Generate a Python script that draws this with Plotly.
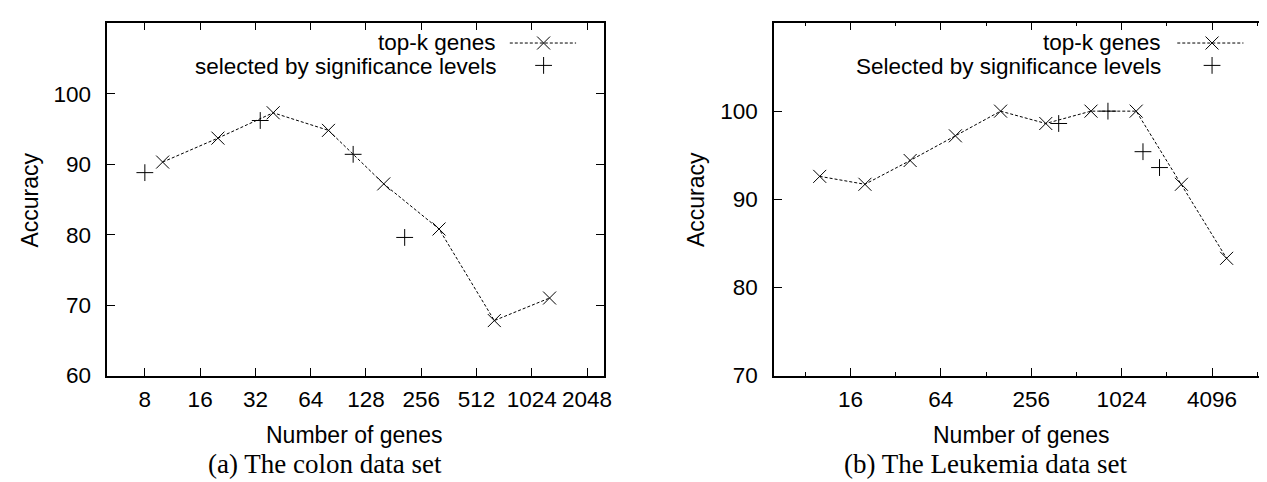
import plotly.graph_objects as go

W, H = 1267, 482

# ---------------- data ----------------
colon_topk_genes = [10, 20, 40, 80, 160, 320, 640, 1280]
colon_topk_acc = [90.3, 93.7, 97.3, 94.8, 87.2, 80.8, 67.8, 71.0]
colon_sig_genes = [8, 34, 109, 208]
colon_sig_acc = [88.8, 96.2, 91.4, 79.6]

leuk_topk_genes = [10, 20, 40, 80, 160, 320, 640, 1280, 2560, 5120]
leuk_topk_acc = [92.6, 91.7, 94.4, 97.2, 100.0, 98.6, 100.0, 100.0, 91.7, 83.3]
leuk_sig_genes = [390, 830, 1420, 1830]
leuk_sig_acc = [98.6, 100.0, 95.4, 93.6]

colon_xticks = [8, 16, 32, 64, 128, 256, 512, 1024, 2048]
leuk_xticks = [16, 64, 256, 1024, 4096]
leuk_xminor = [8, 32, 128, 512, 2048, 8192]
colon_yticks = [60, 70, 80, 90, 100]
leuk_yticks = [70, 80, 90, 100]

legend_labels_a = ["top-k genes", "selected by significance levels"]
legend_labels_b = ["top-k genes", "Selected by significance levels"]


def px(x):
    return x / W


def py(y):
    return 1 - y / H


SANS = "Liberation Sans"
SERIF = "Liberation Serif"
FS = 23
TFS = 22.5

line_style = dict(color="black", width=1, dash="3px,2px")
x_marker = dict(symbol="x-thin", size=13, color="black", line=dict(color="black", width=1))
plus_marker = dict(symbol="cross-thin", size=12, color="black", line=dict(color="black", width=1))

fig = go.Figure()

# colon
fig.add_trace(go.Scatter(x=colon_topk_genes, y=colon_topk_acc, mode="lines+markers",
                         line=line_style, marker=x_marker, xaxis="x", yaxis="y"))
fig.add_trace(go.Scatter(x=colon_sig_genes, y=colon_sig_acc, mode="markers",
                         marker=plus_marker, xaxis="x", yaxis="y"))
# leukemia
fig.add_trace(go.Scatter(x=leuk_topk_genes, y=leuk_topk_acc, mode="lines+markers",
                         line=line_style, marker=x_marker, xaxis="x2", yaxis="y2"))
fig.add_trace(go.Scatter(x=leuk_sig_genes, y=leuk_sig_acc, mode="markers",
                         marker=plus_marker, xaxis="x2", yaxis="y2"))

# legend keys (overlay axes in pixel units of each panel)
for xa, ya, (l0, lm, l1) in (("x3", "y3", (505, 539, 571.7)), ("x4", "y4", (1176.7, 1211.7, 1243.3))):
    fig.add_trace(go.Scatter(x=[l0, l1], y=[36, 36], mode="lines", line=line_style,
                             xaxis=xa, yaxis=ya))
    fig.add_trace(go.Scatter(x=[lm], y=[36], mode="markers", marker=x_marker,
                             xaxis=xa, yaxis=ya))
    fig.add_trace(go.Scatter(x=[lm], y=[59], mode="markers", marker=plus_marker,
                             xaxis=xa, yaxis=ya))

axis_common = dict(showline=True, linecolor="black", linewidth=1.5, mirror="allticks",
                   ticks="inside", ticklen=8, tickwidth=1, tickcolor="black",
                   showgrid=False, zeroline=False,
                   tickfont=dict(family=SANS, size=TFS, color="black"))

y_dom = [py(377.7), py(15)]

fig.update_layout(
    width=W, height=H, margin=dict(l=0, r=0, t=0, b=0),
    paper_bgcolor="white", plot_bgcolor="white", showlegend=False,
    xaxis=dict(axis_common, type="log", domain=[px(100), px(600)],
               range=[0.69897, 11.31 * 0.30103], anchor="y",
               tickvals=colon_xticks, ticktext=[str(v) for v in colon_xticks],
               ticklabelstandoff=3),
    yaxis=dict(axis_common, domain=y_dom, range=[60, 110.1], anchor="x",
               tickvals=colon_yticks, ticktext=[str(v) for v in colon_yticks],
               ticklabelstandoff=10),
    xaxis2=dict(axis_common, type="log", domain=[px(771), 1.0],
                range=[0.69636, 13.215 * 0.30103], anchor="y2",
                tickvals=leuk_xticks, ticktext=[str(v) for v in leuk_xticks],
                minor=dict(tickvals=leuk_xminor, ticklen=4, ticks="inside",
                           tickcolor="black", tickwidth=1, showgrid=False),
                ticklabelstandoff=3),
    yaxis2=dict(axis_common, domain=y_dom, range=[70, 110.05], anchor="x2",
                tickvals=leuk_yticks, ticktext=[str(v) for v in leuk_yticks],
                ticklabelstandoff=10),
    xaxis3=dict(overlaying="x", range=[100, 600], visible=False, anchor="y3"),
    yaxis3=dict(overlaying="y", range=[377.7, 15], visible=False, anchor="x3"),
    xaxis4=dict(overlaying="x2", range=[771, 1267], visible=False, anchor="y4"),
    yaxis4=dict(overlaying="y2", range=[377.7, 15], visible=False, anchor="x4"),
)

ann = []
txt = dict(family=SANS, size=FS, color="black")
for xc in (22, 691.7):
    ann.append(dict(text="Accuracy", x=px(xc), y=py(197), xref="paper", yref="paper",
                    textangle=-90, showarrow=False, font=txt,
                    xanchor="center", yanchor="middle"))
for xc in (348.3, 1019):
    ann.append(dict(text="Number of genes", x=px(xc), y=py(439), xref="paper", yref="paper",
                    showarrow=False, font=txt, xanchor="center", yanchor="middle"))
for xc, t in ((319, "(a) The colon data set"), (984, "(b) The Leukemia data set")):
    ann.append(dict(text=t, x=px(xc), y=py(469), xref="paper", yref="paper",
                    showarrow=False, font=dict(family=SERIF, size=27, color="black"),
                    xanchor="center", yanchor="middle"))
for xr, labels in ((491.7, legend_labels_a), (1161.7, legend_labels_b)):
    for yy, lab in zip((35, 60), labels):
        ann.append(dict(text=lab, x=px(xr), y=py(yy), xref="paper", yref="paper",
                        showarrow=False, font=dict(family=SANS, size=22.5, color="black"),
                        xanchor="right", yanchor="middle", borderpad=0))
fig.update_layout(annotations=ann)

fig.write_html("out.html")
